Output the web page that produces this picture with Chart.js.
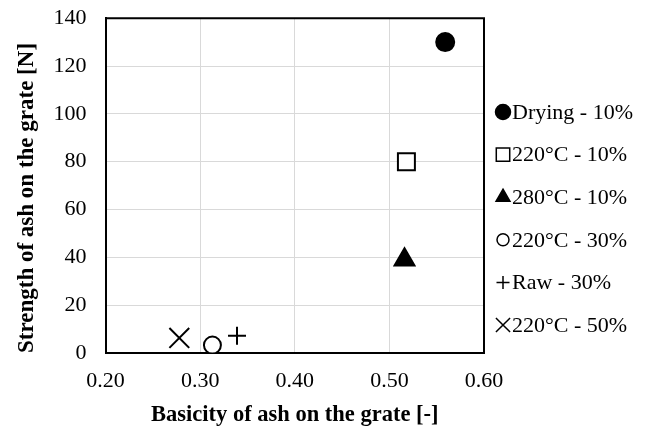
<!DOCTYPE html>
<html>
<head>
<meta charset="utf-8">
<script src="https://cdn.jsdelivr.net/npm/chart.js@4.4.1/dist/chart.umd.min.js"></script>
<style>
  html, body { margin: 0; padding: 0; background: #fff; }
</style>
</head>
<body>
<canvas id="ashChart" width="651" height="426"></canvas>
<script>
// Series
const seriesLabels = ['Drying - 10%', '220°C - 10%', '280°C - 10%', '220°C - 30%', 'Raw - 30%', '220°C - 50%'];
const basicity = [0.559, 0.518, 0.516, 0.313, 0.339, 0.278];
const strength = [130, 80, 39, 3.3, 7.2, 6.3];
const xTicks = [0.2, 0.3, 0.4, 0.5, 0.6];
const yTicks = [0, 20, 40, 60, 80, 100, 120, 140];

// Marker look (kept apart from the values)
const markerStyles = ['circle', 'rect', 'triangle', 'circle', 'cross', 'crossRot'];
const markerFilled = [true, false, true, false, true, true];
const plotRadius = [9, 12, 11.5, 8.5, 9, 14];
const legendRadius = [7.5, 9.5, 8, 6, 6.5, 10];

const serif = '"Liberation Serif", "Times New Roman", serif';

const datasets = seriesLabels.map((label, i) => ({
    label: label,
    data: [{ x: basicity[i], y: strength[i] }],
    pointStyle: markerStyles[i],
    pointRadius: plotRadius[i],
    pointHoverRadius: plotRadius[i],
    backgroundColor: markerFilled[i] ? '#000' : '#fff',
    borderColor: '#000',
    borderWidth: 2
}));

// Closes the plot box and draws the legend on the right
const frameAndLegend = {
    id: 'frameAndLegend',
    beforeDatasetsDraw(chart) {
        const { ctx, chartArea: a } = chart;
        ctx.save();
        ctx.strokeStyle = '#000';
        ctx.lineWidth = 2;
        ctx.beginPath();
        ctx.moveTo(a.left, a.top);
        ctx.lineTo(a.right, a.top);
        ctx.lineTo(a.right, a.bottom);
        ctx.stroke();
        ctx.restore();
    },
    afterDraw(chart) {
        const ctx = chart.ctx;
        ctx.save();
        chart.data.datasets.forEach((ds, i) => {
            const y = 112 + i * 42.6;
            ctx.fillStyle = ds.backgroundColor;
            ctx.strokeStyle = '#000';
            ctx.lineWidth = 1.5;
            Chart.helpers.drawPoint(ctx, {
                pointStyle: ds.pointStyle,
                radius: legendRadius[i],
                borderWidth: 1.5,
                rotation: 0
            }, 503, y);
            ctx.fillStyle = '#000';
            ctx.font = '22px ' + serif;
            ctx.textAlign = 'left';
            ctx.textBaseline = 'middle';
            ctx.fillText(ds.label, 512, y + 1);
        });
        ctx.restore();
    }
};

new Chart(document.getElementById('ashChart').getContext('2d'), {
    type: 'scatter',
    data: { datasets: datasets },
    options: {
        responsive: false,
        animation: false,
        events: [],
        layout: { padding: { top: 18, right: 167, bottom: 0, left: 0 } },
        plugins: {
            legend: { display: false },
            tooltip: { enabled: false }
        },
        scales: {
            x: {
                type: 'linear',
                min: 0.2,
                max: 0.6,
                afterBuildTicks: scale => { scale.ticks = xTicks.map(v => ({ value: v })); },
                afterFit: scale => { scale.height = 73; },
                ticks: {
                    color: '#000',
                    padding: 15,
                    font: { family: serif, size: 22 },
                    callback: v => Number(v).toFixed(2)
                },
                grid: { color: '#d9d9d9', lineWidth: 1, drawTicks: false },
                border: { color: '#000', width: 2 },
                title: {
                    display: true,
                    text: 'Basicity of ash on the grate [-]',
                    color: '#000',
                    font: { family: serif, size: 22.5, weight: 'bold', lineHeight: 1 },
                    padding: { top: 0, bottom: 0 }
                }
            },
            y: {
                type: 'linear',
                min: 0,
                max: 140,
                afterBuildTicks: scale => { scale.ticks = yTicks.map(v => ({ value: v })); },
                afterFit: scale => { scale.width = 105.5; },
                ticks: {
                    color: '#000',
                    padding: 5,
                    font: { family: serif, size: 22 }
                },
                grid: {
                    color: '#d9d9d9',
                    lineWidth: 1,
                    drawTicks: true,
                    tickLength: 14,
                    tickColor: 'rgba(0,0,0,0)'
                },
                border: { color: '#000', width: 2 },
                title: {
                    display: true,
                    align: 'start',
                    text: 'Strength of ash on the grate [N]',
                    color: '#000',
                    font: { family: serif, size: 23, weight: 'bold', lineHeight: 1 },
                    padding: { top: 15.5, bottom: 0 }
                }
            }
        }
    },
    plugins: [frameAndLegend]
});
</script>
</body>
</html>
